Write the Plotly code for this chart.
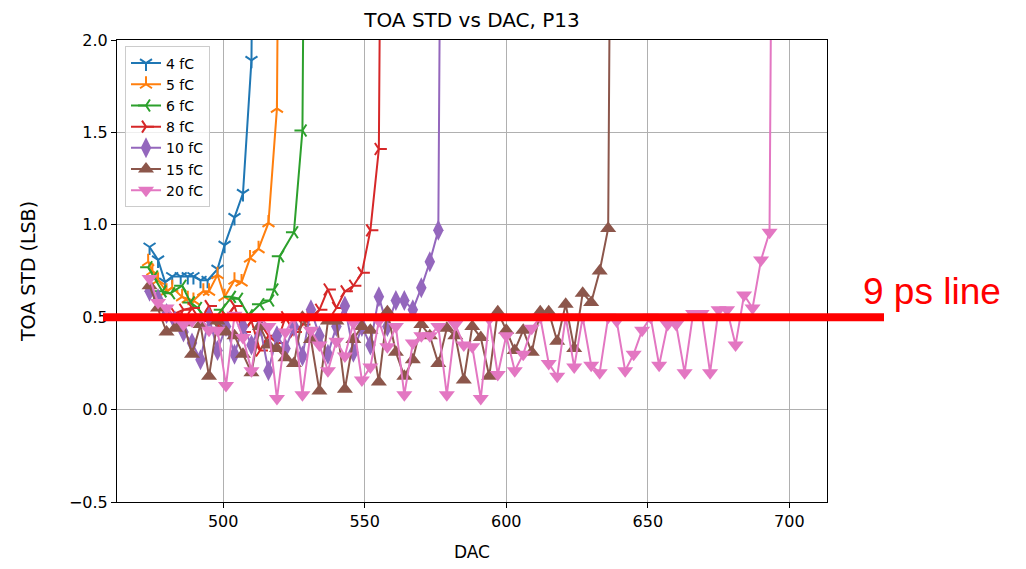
import plotly.graph_objects as go

# ---------------- data ----------------
series_names = ["4 fC", "5 fC", "6 fC", "8 fC", "10 fC", "15 fC", "20 fC"]

dac_4fc = [474, 477, 479.5, 482, 485, 487.5, 489.5, 492, 494.5, 498, 500.5, 504, 507, 510, 513]
std_4fc = [0.88, 0.81, 0.69, 0.72, 0.72, 0.72, 0.72, 0.70, 0.70, 0.76, 0.89, 1.04, 1.17, 1.89, 8]

dac_5fc = [473.5, 475, 477, 480, 482, 485.5, 487.5, 489.5, 493, 495, 498, 500.5, 504, 506.5,
           509.5, 512.5, 516, 519, 522]
std_5fc = [0.80, 0.75, 0.70, 0.64, 0.66, 0.61, 0.60, 0.59, 0.64, 0.64, 0.73, 0.61, 0.70, 0.69,
           0.82, 0.87, 1.01, 1.63, 8]

dac_6fc = [473.5, 475.5, 478.5, 481.5, 485.5, 488.5, 491, 493.5, 496.5, 499.5, 503, 505.5, 509,
           513, 516.5, 518, 520, 525, 528, 531]
std_6fc = [0.77, 0.72, 0.64, 0.63, 0.67, 0.58, 0.55, 0.50, 0.48, 0.54, 0.61, 0.60, 0.51,
           0.57, 0.59, 0.65, 0.83, 0.96, 1.51, 8]

dac_8fc = [483, 486, 489, 492, 495, 498, 501, 504, 507, 510, 513, 516, 519, 522, 525, 528,
           531, 534, 537, 540, 543, 546, 549, 552, 555, 558]
std_8fc = [0.52, 0.54, 0.55, 0.48, 0.56, 0.45, 0.50, 0.56, 0.42, 0.48, 0.32, 0.40, 0.36, 0.50,
           0.42, 0.46, 0.50, 0.54, 0.65, 0.55, 0.64, 0.67, 0.74, 0.97, 1.41, 8]

dac_10fc = [474, 477, 480, 483, 486, 489, 492, 495, 498, 501, 504, 507, 510, 513, 516, 519,
            522, 525, 528, 531, 534, 537, 540, 543, 546, 549, 552, 555, 558, 561, 564, 567,
            570, 573, 576, 579]
std_10fc = [0.64, 0.60, 0.52, 0.48, 0.42, 0.36, 0.27, 0.50, 0.32, 0.45, 0.30, 0.45, 0.35, 0.45,
            0.21, 0.40, 0.33, 0.45, 0.29, 0.54, 0.40, 0.30, 0.45, 0.56, 0.31, 0.45, 0.35, 0.61,
            0.45, 0.59, 0.59, 0.54, 0.66, 0.80, 0.97, 8]

dac_15fc = [474, 477, 480, 483, 486, 489, 492, 495, 498, 501, 504, 507, 510, 513, 516, 519,
            522, 525, 528, 531, 534, 537, 540, 543, 546, 549, 552, 555, 558, 561, 564, 567,
            570, 573, 576, 579, 582, 585, 588, 591, 594, 597, 600, 603, 606, 609, 612, 615,
            618, 621, 624, 627, 630, 633, 636, 639]
std_15fc = [0.67, 0.55, 0.42, 0.44, 0.47, 0.30, 0.46, 0.18, 0.48, 0.42, 0.40, 0.30, 0.20, 0.45,
            0.35, 0.33, 0.28, 0.25, 0.50, 0.38, 0.10, 0.48, 0.48, 0.11, 0.38, 0.45, 0.43, 0.15,
            0.53, 0.31, 0.18, 0.27, 0.46, 0.40, 0.25, 0.44, 0.40, 0.16, 0.45, 0.39, 0.18, 0.53,
            0.43, 0.32, 0.43, 0.31, 0.53, 0.53, 0.37, 0.57, 0.33, 0.63, 0.58, 0.75, 0.98, 8]

dac_20fc = [474, 477, 480, 483, 486, 489, 492, 495, 498, 501, 504, 507, 510, 513, 516, 519,
            522, 525, 528, 531, 534, 537, 540, 543, 546, 549, 552, 555, 558, 561, 564, 567,
            570, 573, 576, 579, 582, 585, 588, 591, 594, 597, 600, 603, 606, 609, 612, 615,
            618, 621, 624, 627, 630, 633, 636, 639, 642, 645, 648, 651, 654, 657, 660, 663,
            666, 669, 672, 675, 678, 681, 684, 687, 690, 693, 696]
std_20fc = [0.71, 0.58, 0.55, 0.50, 0.46, 0.48, 0.50, 0.43, 0.43, 0.13, 0.51, 0.39, 0.21, 0.50,
            0.45, 0.06, 0.42, 0.50, 0.08, 0.43, 0.35, 0.21, 0.37, 0.29, 0.47, 0.16, 0.23, 0.48,
            0.34, 0.45, 0.08, 0.36, 0.40, 0.40, 0.45, 0.08, 0.46, 0.35, 0.34, 0.06, 0.49, 0.19,
            0.40, 0.21, 0.30, 0.44, 0.50, 0.25, 0.18, 0.50, 0.23, 0.50, 0.24, 0.20, 0.50, 0.48,
            0.21, 0.30, 0.43, 0.50, 0.24, 0.46, 0.46, 0.20, 0.52, 0.52, 0.20, 0.54, 0.54, 0.35,
            0.62, 0.55, 0.81, 0.96, 8]

ref_level = 0.5          # "9 ps line"
ref_label = "9 ps line"
x_ticks = [500, 550, 600, 650, 700]
y_ticks = [-0.5, 0.0, 0.5, 1.0, 1.5, 2.0]

# ---------------- styles ----------------
colors = ["#1f77b4", "#ff7f0e", "#2ca02c", "#d62728", "#9467bd", "#8c564b", "#e377c2"]
symbols = ["y-down", "y-up", "y-left", "y-right", "diamond-tall", "triangle-up", "triangle-down"]
sizes = [10, 10, 10, 10, 15, 14, 14]
xs = [dac_4fc, dac_5fc, dac_6fc, dac_8fc, dac_10fc, dac_15fc, dac_20fc]
ys = [std_4fc, std_5fc, std_6fc, std_8fc, std_10fc, std_15fc, std_20fc]

fig = go.Figure()
for name, x, y, c, s, sz in zip(series_names, xs, ys, colors, symbols, sizes):
    line_sym = s.startswith("y-")
    fig.add_trace(go.Scatter(
        x=x, y=y, name=name, mode="lines+markers",
        line=dict(color=c, width=2),
        marker=dict(symbol=s, size=sz, color=c,
                    line=dict(color=c, width=2 if line_sym else 0)),
        cliponaxis=True,
    ))

# page body has an 8px offset; figure placed so plot area sits at 117..827 x 40..502
OFF = 8
W, H = 1026 - OFF, 569 - OFF
L, R, T, B = 117 - OFF, 199, 40 - OFF, 67
pw = W - L - R
ph = H - T - B

fig.add_shape(type="line", xref="paper", yref="y",
              x0=(103 - 117) / pw, x1=(884 - 117) / pw, y0=ref_level, y1=ref_level,
              line=dict(color="#ff0000", width=8), layer="above")
fig.add_annotation(text=ref_label, xref="paper", yref="paper",
                   x=(861 - 117) / pw, y=(502 - 291) / ph,
                   xanchor="left", yanchor="middle", showarrow=False,
                   font=dict(family="Liberation Sans", size=37, color="#ff0000"))

axis_common = dict(showline=True, linecolor="black", linewidth=1, mirror=True,
                   ticks="outside", ticklen=5, tickcolor="black", tickwidth=1,
                   showgrid=True, gridcolor="#b0b0b0", gridwidth=1.3, zeroline=False,
                   tickfont=dict(family="DejaVu Sans", size=16, color="black"))

fig.update_layout(
    width=W, height=H,
    margin=dict(l=L, r=R, t=T, b=B),
    paper_bgcolor="white", plot_bgcolor="white",
    title=dict(text="TOA STD vs DAC, P13", x=(L + pw / 2) / W, xanchor="center",
               y=1 - (19.5 - OFF) / H, yanchor="middle",
               font=dict(family="DejaVu Sans", size=20, color="black")),
    xaxis=dict(range=[462.5, 713.3], tickvals=x_ticks,
               title=dict(text="DAC", font=dict(family="DejaVu Sans", size=17, color="black"),
                          standoff=15),
               **axis_common),
    yaxis=dict(range=[-0.5, 2.0], tickvals=y_ticks, tickformat=".1f",
               title=dict(text="TOA STD (LSB)", font=dict(family="DejaVu Sans", size=19, color="black"),
                          standoff=28),
               **axis_common),
    legend=dict(x=(125 - 117) / pw, y=0.986, xanchor="left", yanchor="top",
                bgcolor="rgba(255,255,255,0.8)", bordercolor="#cccccc", borderwidth=1,
                font=dict(family="DejaVu Sans", size=14, color="black"),
                tracegroupgap=0),
    showlegend=True,
)

fig.write_html("out.html")
